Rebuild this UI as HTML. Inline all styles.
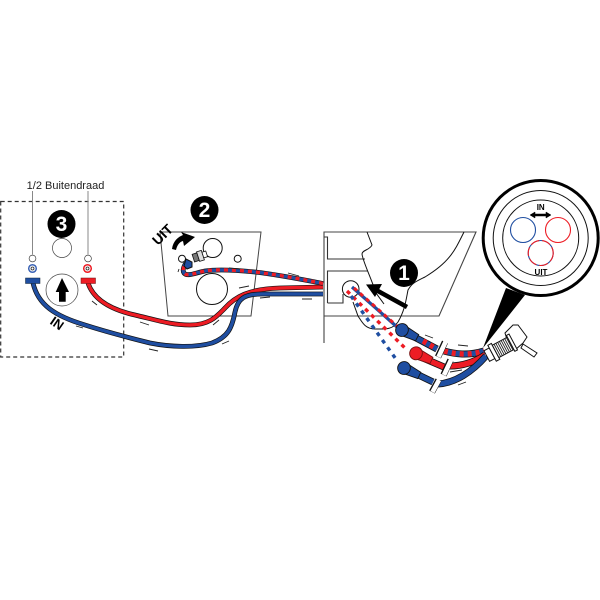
<!DOCTYPE html>
<html><head><meta charset="utf-8"><style>
html,body{margin:0;padding:0;background:#fff}
svg{display:block}
text{font-family:"Liberation Sans",sans-serif}
.o{fill:none;stroke:#111;stroke-width:4.8}
.b{fill:none;stroke:#1f4ea1;stroke-width:3.4}
.r{fill:none;stroke:#ed1c24;stroke-width:3.4}
.o2{fill:none;stroke:#111;stroke-width:7}
.b2{fill:none;stroke:#1f4ea1;stroke-width:5.4}
.r2{fill:none;stroke:#ed1c24;stroke-width:5.4}
.t{stroke:#222;stroke-width:.9;fill:none}
.l{fill:none;stroke:#333;stroke-width:1.1}
.c{fill:none;stroke:#111;stroke-width:1}
.g{fill:none;stroke:#444;stroke-width:.7}
</style></head><body>
<svg width="600" height="600" viewBox="0 0 600 600" xmlns="http://www.w3.org/2000/svg">
<rect width="600" height="600" fill="#fff"/>
<!-- panel 3 -->
<rect x="0.7" y="201.500" width="123" height="155.500" fill="none" stroke="#333" stroke-width="1.200" stroke-dasharray="4 3"/>
<text x="65.500" y="189" font-size="11" text-anchor="middle" fill="#222">1/2 Buitendraad</text>
<path d="M32.500 191V254.500M88 191V254.500" stroke="#888" stroke-width="1" fill="none"/>
<circle cx="32.500" cy="258.500" r="3.400" class="g"/>
<circle cx="88" cy="258.500" r="3.400" class="g"/>
<circle cx="32.500" cy="268.500" r="3.800" fill="#fff" stroke="#3b63b5" stroke-width="1.500"/>
<circle cx="32.500" cy="268.500" r="1.500" fill="#fff" stroke="#222" stroke-width=".8"/>
<circle cx="87.500" cy="268.500" r="3.800" fill="#fff" stroke="#ed1c24" stroke-width="1.500"/>
<circle cx="87.500" cy="268.500" r="1.500" fill="#fff" stroke="#222" stroke-width=".8"/>
<circle cx="61.500" cy="224" r="14" fill="#000"/>
<text x="61.500" y="231" font-size="21" font-weight="bold" fill="#fff" text-anchor="middle">3</text>
<circle cx="62" cy="248" r="9.500" class="g"/>
<circle cx="62" cy="290" r="16" class="g"/>
<path d="M62 278L69 292H65.700V301.700H59V292H55.700Z" fill="#000"/>

<!-- panel 2 -->
<path d="M160 232H261L251 316H168Z" fill="#fff" stroke="#444" stroke-width="1"/>
<circle cx="212" cy="289" r="15.500" class="c"/>
<circle cx="212.700" cy="248" r="9.500" class="c"/>
<circle cx="237.700" cy="258.700" r="3.500" class="c"/>
<circle cx="182" cy="258.700" r="3.500" class="c"/>
<circle cx="204.500" cy="210" r="14" fill="#000"/>
<text x="204.500" y="217" font-size="21" font-weight="bold" fill="#fff" text-anchor="middle">2</text>
<text transform="translate(166,238) rotate(-45)" font-size="14" font-weight="bold" fill="#000" text-anchor="middle">UIT</text>
<path d="M172 249C173 241 178 237 183 235L181 232L195 237L184 246L183 241C179 242 177 246 176 250Z" fill="#000"/>
<g transform="translate(200,256) rotate(-18)">
<rect x="-7" y="-4" width="5" height="8" fill="#777" stroke="#111" stroke-width=".8"/>
<rect x="-2" y="-5" width="5" height="10" fill="#ddd" stroke="#111" stroke-width=".8"/>
<rect x="3" y="-3" width="4" height="6" fill="#fff" stroke="#111" stroke-width=".8"/>
</g>

<!-- toilet -->
<path d="M324 343V232H476L439 316H324" fill="#fff" stroke="#444" stroke-width="1.100"/>
<path d="M324 237H327.500V259H365M327.500 303V271H368M327.500 303H343V294" class="l"/>
<path d="M367 232L372 245C370 250 362 250 362 254C363 262 370 275 376 293L384 304" class="c"/>
<path d="M464 232C455 250 450 262 425 277C415 282 412 283 408 290C406 300 405 310 398 322C392 330 385 329 375 329C365 329 362 322 358 316L353 302" class="c"/>
<circle cx="350.700" cy="289" r="8.300" fill="#fff" stroke="#111" stroke-width="1"/>
<circle cx="404" cy="273" r="14" fill="#000"/>
<text x="404" y="280" font-size="21" font-weight="bold" fill="#fff" text-anchor="middle">1</text>
<path d="M407 307L377 290.500" stroke="#000" stroke-width="4.500" fill="none"/>
<path d="M366 284.500L382 284L375 297Z" fill="#000"/>

<!-- dashed -->
<path d="M352 287L397 327" stroke="#1f4ea1" stroke-width="3.200" fill="none"/>
<path d="M354 288L397 326" stroke="#ed1c24" stroke-width="3" stroke-dasharray="4 4" fill="none"/>
<path d="M347 291L407 350" stroke="#ed1c24" stroke-width="3.400" stroke-dasharray="4 4.500" fill="none"/>
<path d="M351 296L398 362" stroke="#1f4ea1" stroke-width="3.400" stroke-dasharray="4 5" fill="none"/>

<!-- hoses left -->
<path d="M88 283C93 298 108 309 135 315C160 321 172 325 190 325C210 325 217 316 225 308C235 297 248 289 280 288L323 287" class="o"/>
<path d="M88 283C93 298 108 309 135 315C160 321 172 325 190 325C210 325 217 316 225 308C235 297 248 289 280 288L323 287" class="r"/>
<path d="M33 283C38 305 55 316 85 325C110 333 130 338 150 343C170 347 195 348 212 343C228 337 232 328 235 312C238 298 245 294 262 294L323 294" class="o"/>
<path d="M33 283C38 305 55 316 85 325C110 333 130 338 150 343C170 347 195 348 212 343C228 337 232 328 235 312C238 298 245 294 262 294L323 294" class="b"/>
<path d="M323 283.500C300 279 280 275 255 272C235 270 218 269 205 271C195 273 187 277 184 273C182 270 184 266 186 263" class="o"/>
<path d="M323 283.500C300 279 280 275 255 272C235 270 218 269 205 271C195 273 187 277 184 273C182 270 184 266 186 263" class="b"/>
<path d="M323 283.500C300 279 280 275 255 272C235 270 218 269 205 271C195 273 187 277 184 273C182 270 184 266 186 263" class="r" style="stroke-dasharray:4 4"/>
<rect x="25.500" y="278" width="14.500" height="5.500" fill="#1f4ea1" stroke="#123" stroke-width=".5"/>
<rect x="81" y="278" width="14.500" height="5.500" fill="#ed1c24" stroke="#611" stroke-width=".5"/>
<path d="M186 259L192 262L192 267L187 269L184 266Z" fill="#1f4ea1" stroke="#111" stroke-width="1"/>
<text transform="translate(54.500,327) rotate(35)" font-size="13" font-weight="bold" fill="#000" text-anchor="middle">IN</text>

<!-- hoses right -->
<path d="M403 331L437 349" class="o2"/>
<path d="M403 331L437 349" class="b2"/>
<path d="M423 341L437 349" class="r2" style="stroke-dasharray:4 4"/>
<path d="M444 351C455 354 468 356 484 351" class="o2"/>
<path d="M444 351C455 354 468 356 484 351" class="b2"/>
<path d="M444 351C455 354 468 356 484 351" class="r2" style="stroke-dasharray:4 4"/>
<path d="M416 355L444 367" class="o2"/>
<path d="M416 355L444 367" class="r2"/>
<path d="M450 366C462 366 475 362 485 355" class="o2"/>
<path d="M450 366C462 366 475 362 485 355" class="r2"/>
<path d="M404 368L433 382" class="o2"/>
<path d="M404 368L433 382" class="b2"/>
<path d="M438 384C455 383 472 372 486 356" class="o2"/>
<path d="M438 384C455 383 472 372 486 356" class="b2"/>
<path d="M445 342L438 357M450.500 360L443.500 375M438.500 380L432 392" stroke="#111" stroke-width="6.500" fill="none"/>
<path d="M445.500 342L438.500 357M451 360L444 375M439 380L432.500 392" stroke="#fff" stroke-width="4.600" fill="none"/>
<g transform="translate(402,330) rotate(27)">
<path d="M4-5L17-3.500V3.500L4 5Z" fill="#1f4ea1" stroke="#111" stroke-width=".9"/>
<ellipse cx="0" cy="0" rx="6.300" ry="6.500" fill="#1f4ea1" stroke="#111" stroke-width=".9"/>
</g>
<g transform="translate(416,353.300) rotate(25)">
<path d="M4-5L17-3.500V3.500L4 5Z" fill="#ed1c24" stroke="#711" stroke-width=".9"/>
<ellipse cx="0" cy="0" rx="6.300" ry="6.500" fill="#ed1c24" stroke="#711" stroke-width=".9"/>
</g>
<g transform="translate(404,368) rotate(26)">
<path d="M4-5L17-3.500V3.500L4 5Z" fill="#1f4ea1" stroke="#111" stroke-width=".9"/>
<ellipse cx="0" cy="0" rx="6.300" ry="6.500" fill="#1f4ea1" stroke="#111" stroke-width=".9"/>
</g>

<!-- ticks -->
<path class="t" d="M92 301L97 305M140 322L149 325M76 326L83 328M149 349L158 351M213 325L219 320M222 344L229 341M239 288L249 286M260 298L270 297M302 299L312 299M229 268L240 269M288 273L299 276M178 272L179 269M425 335L433 338M458 345L468 346M450 372L462 370M458 385L466 382"/>

<!-- magnifier -->
<path d="M506 288L525 295L483 348Z" fill="#000"/>
<circle cx="540.700" cy="238" r="57.500" fill="#fff" stroke="#000" stroke-width="3"/>
<circle cx="540.700" cy="238" r="47.500" class="c"/>
<circle cx="540.700" cy="238" r="38" class="c"/>
<circle cx="523" cy="230" r="12.500" fill="none" stroke="#1f4ea1" stroke-width="1.100"/>
<circle cx="558" cy="230" r="12.500" fill="none" stroke="#ed1c24" stroke-width="1.100"/>
<circle cx="540.700" cy="253" r="12.500" fill="none" stroke="#1f4ea1" stroke-width="1.100"/>
<circle cx="540.700" cy="253" r="12.500" fill="none" stroke="#ed1c24" stroke-width="1.100" stroke-dasharray="9 3"/>
<text x="540.700" y="210" font-size="8" font-weight="bold" text-anchor="middle" fill="#000">IN</text>
<text x="541" y="275" font-size="8" font-weight="bold" text-anchor="middle" fill="#000">UIT</text>
<path d="M530 215L535 212V214H546V212L551 215L546 218V216H535V218Z" fill="#000" stroke="#000" stroke-width=".5"/>

<!-- fitting -->
<path d="M523 344L537 353L534 357L521 348Z" fill="#fff" stroke="#111" stroke-width="1"/>
<path d="M505 333L513 325H518L527 337L523 343L515 350L509 346Z" fill="#fff" stroke="#111" stroke-width="1"/>
<g transform="translate(500,349) rotate(-28)">
<rect x="-15" y="-6" width="6" height="12" fill="#fff" stroke="#111" stroke-width="1"/>
<rect x="-9" y="-9" width="4" height="18" fill="#fff" stroke="#111" stroke-width="1"/>
<rect x="-5" y="-7" width="17" height="14" fill="#fff" stroke="#111" stroke-width="1"/>
<path d="M-3-7V7M-1-7V7M1-7V7M3-7V7M5-7V7M7-7V7M9-7V7M11-7V7" stroke="#222" stroke-width=".9"/>
<rect x="12" y="-9" width="3" height="18" fill="#fff" stroke="#111" stroke-width="1"/>
</g>
</svg>
</body></html>
